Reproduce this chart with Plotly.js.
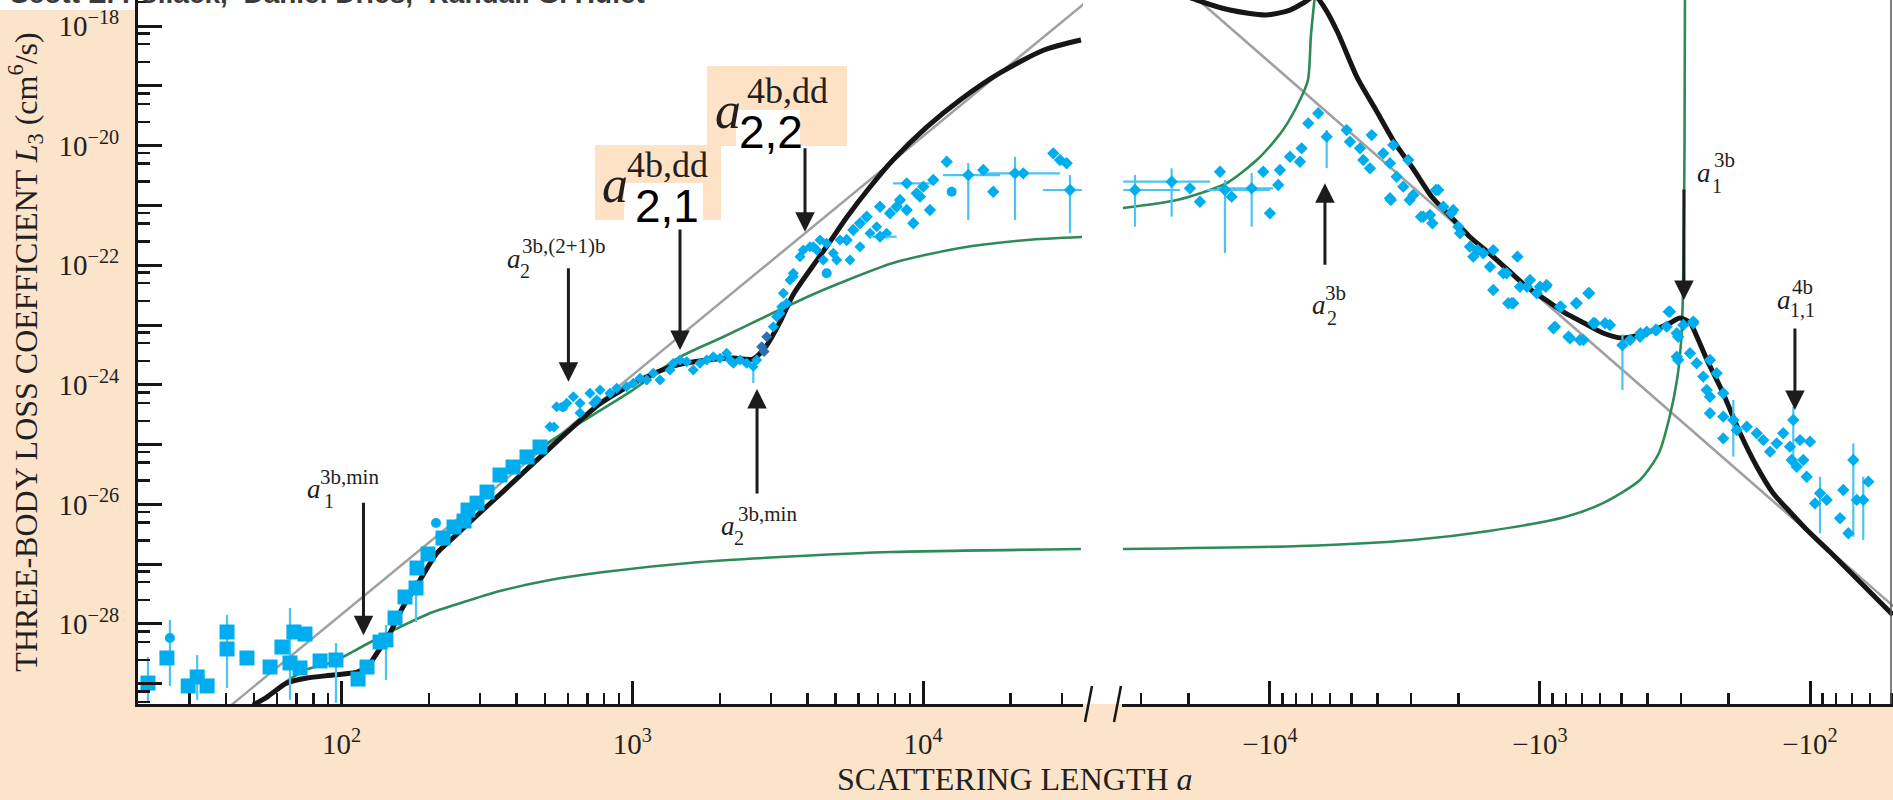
<!DOCTYPE html>
<html><head><meta charset="utf-8">
<script src="https://cdn.plot.ly/plotly-3.0.1.min.js"></script>
<style>html,body{margin:0;padding:0;background:#fce4cb;}#chart{width:1893px;height:800px;}</style>
</head><body><div id="chart"></div>
<script>
// ---------- tick labels ----------
const yTickVals = [1e-28,1e-26,1e-24,1e-22,1e-20,1e-18];
const yTickText = ['10<sup>−28</sup>','10<sup>−26</sup>','10<sup>−24</sup>','10<sup>−22</sup>','10<sup>−20</sup>','10<sup>−18</sup>'];
const yOddTickVals = [1e-29,1e-27,1e-25,1e-23,1e-21,1e-19];
const xPosTickVals = [100,1000,10000];
const xPosTickText = ['10<sup>2</sup>','10<sup>3</sup>','10<sup>4</sup>'];
const xNegTickVals = [10000,1000,100];
const xNegTickText = ['−10<sup>4</sup>','−10<sup>3</sup>','−10<sup>2</sup>'];
const xPosMinor = [20,30,40,50,60,70,80,90,200,300,400,500,600,700,800,900,2000,3000,4000,5000,6000,7000,8000,9000,20000,30000];
const xNegMinor = [30000,20000,9000,8000,7000,6000,5000,4000,3000,2000,900,800,700,600,500,400,300,200,90,80,70,60,50];
const yMinorMant = [2.5,5,7.5];

// ---------- theory curves (a>0 panel) ----------
const grayPosA = [40, 37000];
const grayPosL = [3.7e-30, 2.7e-18];
const greenLowPosA = [60, 75, 93.5, 122.4, 158.9, 206.4, 270.2, 350.8, 521, 799, 1709, 3773, 7755, 34900];
const greenLowPosL = [8.5e-30, 1.7e-29, 2.32e-29, 4.63e-29, 8.91e-29, 1.59e-28, 2.43e-28, 3.56e-28, 5.44e-28, 7.41e-28, 1.09e-27, 1.37e-27, 1.60e-27, 1.79e-27];
const greenUpPosA = [500, 635, 982, 1459, 2051, 3047, 3989, 5180, 7880, 13400, 22750, 35200];
const greenUpPosL = [1.0e-25, 2.05e-25, 7.59e-25, 2.92e-24, 6.30e-24, 1.59e-23, 2.94e-23, 5.04e-23, 1.09e-22, 1.94e-22, 2.64e-22, 2.96e-22];
const blackPosA = [49.6, 55.4, 64.9, 76.1, 93.5, 113.1, 122.4, 132.5, 146.8, 162.7, 186.2, 213, 241.7, 276.6, 316.5, 350.8, 411, 501, 610.6, 774.4, 1063, 1380, 1807, 2220, 2601, 2905, 3220, 3569, 4083, 4672, 5473, 6568, 7880, 10310, 13400, 18380, 26040, 34910];
const blackPosL = [4.4e-30, 6.0e-30, 1.03e-29, 1.25e-29, 1.40e-29, 1.57e-29, 1.91e-29, 3.27e-29, 7.06e-29, 1.92e-28, 5.45e-28, 1.54e-27, 2.75e-27, 5.07e-27, 9.31e-27, 1.47e-26, 3.03e-26, 7.35e-26, 1.78e-25, 4.82e-25, 1.20e-24, 2.06e-24, 2.60e-24, 2.81e-24, 2.70e-24, 4.63e-24, 1.12e-23, 3.18e-23, 8.32e-23, 2.09e-22, 6.40e-22, 2.03e-21, 5.74e-21, 2.05e-20, 5.79e-20, 1.64e-19, 3.97e-19, 5.83e-19];

// ---------- theory curves (a<0 panel, |a|) ----------
const grayNegA = [20000, 45];
const grayNegL = [3.76e-18, 1.41e-28];
const greenLowNegA = [35030, 7743, 2954, 1545, 808, 584.6, 426.3, 362.5, 329.9, 310.9, 300.5, 295.4, 291.6, 290.4];
const greenLowNegL = [1.79e-27, 2.01e-27, 2.54e-27, 3.59e-27, 6.15e-27, 1.05e-26, 2.56e-26, 7.24e-26, 3.13e-25, 1.20e-24, 5.0e-24, 3.43e-23, 8.4e-21, 4e-18];
const greenUpNegA = [35030, 22100, 14430, 10890, 8952, 7743, 7233, 7050, 6813];
const greenUpNegL = [9.06e-22, 1.23e-21, 2.37e-21, 6.45e-21, 1.82e-20, 5.79e-20, 1.25e-19, 7.07e-19, 3.3e-18];
const blackNegA = [35030, 25550, 18640, 14070, 10340, 8431, 7420, 6813, 6202, 5600, 4763, 4050, 3443, 2929, 2512, 2136, 1817, 1545, 1314, 1117, 950, 808, 687, 584.6, 497, 426, 362.5, 330, 303, 278, 262, 240.6, 210, 181.6, 157.1, 137.1, 118.6, 102.6, 84.3, 61.5, 49.3];
const blackNegL = [1.79e-17, 4.85e-18, 2.72e-18, 1.85e-18, 1.53e-18, 1.85e-18, 2.52e-18, 3.18e-18, 1.85e-18, 7.64e-19, 1.40e-19, 3.94e-20, 1.10e-20, 3.91e-21, 1.38e-21, 6.40e-22, 2.96e-22, 1.60e-22, 8.32e-23, 4.32e-23, 2.62e-23, 1.59e-23, 1.08e-23, 7.35e-24, 6.06e-24, 6.81e-24, 8.91e-24, 1.08e-23, 1.31e-23, 1.08e-23, 6.30e-24, 2.60e-24, 7.30e-25, 1.56e-25, 4.22e-26, 1.55e-26, 7.5e-27, 3.73e-27, 1.60e-27, 3.85e-28, 1.42e-28];

// ---------- measured L3 (a>0) ----------
const sqA = [25.1, 29.7, 34.5, 40.4, 47.3, 56.8, 62.4, 68.6, 74.9, 72.0, 84.4, 114, 122.4, 135.7, 152.8, 165.3, 181.8, 198.4, 223.4, 243.8, 263.8, 272.3, 292.4, 316.5, 350.8, 388.8, 434.4, 481.6];
const sqL = [2.70e-29, 9.2e-30, 9.2e-30, 3.82e-29, 2.70e-29, 1.91e-29, 4.12e-29, 7.35e-29, 6.80e-29, 1.84e-29, 2.41e-29, 1.20e-29, 1.91e-29, 5.0e-29, 1.26e-28, 2.83e-28, 8.63e-28, 1.48e-27, 2.74e-27, 4.19e-27, 5.27e-27, 8.05e-27, 1.05e-26, 1.61e-26, 3.10e-26, 4.22e-26, 6.21e-26, 9.12e-26];
const sqErrA = [21.6, 31.9, 40.4, 66.5, 95.7, 142.2, 180.4];
const sqErrL = [1.03e-29, 1.30e-29, 7.35e-29, 2.23e-29, 2.50e-29, 5.40e-29, 4.0e-28];
const sqErrHi = [2.8e-29, 3.03e-29, 1.42e-28, 1.85e-28, 4.81e-29, 9.6e-29, 5.44e-28];
const sqErrLo = [5.0e-30, 5.4e-30, 8.5e-30, 5.4e-30, 4.8e-30, 1.16e-29, 1.08e-28];
const circA = [25.7, 211.3, 577.9, 4661, 12540];
const circL = [5.83e-29, 4.89e-27, 4.26e-25, 7.33e-23, 1.69e-21];
const circHi = [1.17e-28, 4.89e-27, 4.26e-25, 7.33e-23, 1.69e-21];
const circLo = [9.2e-30, 4.89e-27, 4.26e-25, 7.33e-23, 1.69e-21];
const ridgeA = [538, 521, 549.5, 595, 627, 661, 715, 738, 754.5, 774.4, 838, 884, 956, 1008, 1063, 1121, 1181, 1245, 1348, 1384, 1459, 1538, 1621, 1709, 1802, 1899, 2002, 2111, 2168, 2225, 2346, 2474, 2678, 3054, 3137, 3265, 3306, 3485, 3577, 3773, 3873, 4084, 4306, 4420, 4661, 4911, 5178, 3396, 3577, 4192, 4537, 5045, 3220, 5606, 6067, 6568, 6926, 7497, 661];
const ridgeL = [1.97e-25, 1.99e-25, 4.31e-25, 4.91e-25, 6.32e-25, 4.91e-25, 7.21e-25, 4.97e-25, 5.57e-25, 8.18e-25, 7.21e-25, 8.74e-25, 9.29e-25, 1.06e-24, 1.29e-24, 1.20e-24, 1.56e-24, 1.20e-24, 1.77e-24, 2.29e-24, 2.60e-24, 2.43e-24, 1.77e-24, 2.29e-24, 2.60e-24, 2.95e-24, 2.77e-24, 3.37e-24, 2.60e-24, 2.29e-24, 2.60e-24, 2.29e-24, 2.60e-24, 9.37e-24, 1.38e-23, 2.02e-23, 3.39e-23, 5.66e-23, 7.33e-23, 1.39e-22, 1.79e-22, 2.04e-22, 1.79e-22, 2.64e-22, 2.32e-22, 1.58e-22, 2.64e-22, 2.31e-23, 6.43e-23, 2.04e-22, 1.22e-22, 1.22e-22, 1.57e-23, 1.22e-22, 2.04e-22, 3.41e-22, 4.41e-22, 3.41e-22, 3.37e-25];
const ridgeErrA = [2607];
const ridgeErrL = [2.01e-24];
const ridgeErrHi = [2.01e-24];
const ridgeErrLo = [1.07e-24];
const darkA = [2786, 2899, 2840];
const darkL = [4.34e-24, 6.37e-24, 3.6e-24];
const upA = [5462, 5754, 6067, 6397, 7110, 7695, 8326, 9506, 9253, 10020, 10560, 10840, 12060, 16110, 17430, 22110, 28030, 29570, 31170, 8113, 8783, 9757];
const upL = [2.64e-22, 3.88e-22, 5.02e-22, 6.47e-22, 9.51e-22, 7.38e-22, 1.23e-21, 1.59e-21, 5.02e-22, 2.06e-21, 8.38e-22, 2.66e-21, 5.38e-21, 3.91e-21, 1.69e-21, 3.44e-21, 7.43e-21, 5.74e-21, 5.06e-21, 9.51e-22, 8.38e-22, 1.40e-21];
const upErrA = [7110, 8783, 14300, 20700, 32000];
const upErrL = [3.0e-22, 2.34e-21, 3.22e-21, 3.44e-21, 1.81e-21];
const upErrHi = [3.0e-22, 2.34e-21, 5.12e-21, 6.52e-21, 3.22e-21];
const upErrLo = [3.0e-22, 2.34e-21, 5.70e-22, 5.70e-22, 3.45e-22];
const upErrAHi = [8113, 10820, 18380, 29570, 35190];
const upErrALo = [6568, 7880, 11710, 15690, 25840];

// ---------- measured L3 (a<0, |a|) ----------
const negErrA = [31620, 23130, 14680, 11690, 6166];
const negErrL = [1.81e-21, 2.49e-21, 1.81e-21, 1.93e-21, 1.41e-20];
const negErrHi = [3.22e-21, 4.17e-21, 2.66e-21, 3.48e-21, 1.82e-20];
const negErrLo = [4.41e-22, 6.47e-22, 1.60e-22, 4.41e-22, 4.22e-21];
const negErrAHi = [34940, 34940, 17150, 15750, 6166];
const negErrALo = [21540, 16680, 10000, 9747, 6166];
const negA = [19780, 18170, 15320, 13870, 10000, 10590, 9183, 9318, 8431, 7632, 7743, 7213, 6624, 5199, 5055, 4642, 4201, 4511, 4263, 3805, 3594, 3494, 3395, 3594, 3209, 3074, 2947, 2705, 2555, 2381, 2281, 2095, 2007, 1978, 1817, 1766, 1622, 1489, 1532, 1489, 1329, 1311, 3569, 3038, 2758, 2503, 2428, 2130, 1700, 1272, 1212, 1118, 951.7, 892, 836, 735.7, 656.9, 711.6, 784.3, 625.8, 550.6, 424.7, 373.4, 333.7, 307.7, 270.5, 307.7, 1367, 1256, 1186, 1089, 1000, 944.6, 1028, 880, 843, 774, 731, 691, 662, 635, 574, 464, 426, 402.6, 369.7, 339.5, 330, 311.6, 294.6, 270.5, 311.6, 278.2, 262.8, 248.5, 234.7, 221.6, 241.3, 234.7, 209.5, 234.7, 209.5, 209.5, 186.8, 171.5, 157.5, 148.9, 140.6, 132.8, 125.6, 118.6, 108.9, 100, 116.9, 105.9, 112, 102.9, 95.8, 86.7, 77.4, 72.1, 75.3, 67.1, 60.8];
const negL = [1.93e-21, 1.15e-21, 3.66e-21, 1.40e-21, 7.38e-22, 3.66e-21, 3.91e-21, 2.19e-21, 6.52e-21, 9.01e-21, 5.38e-21, 2.36e-20, 3.47e-20, 1.82e-20, 1.16e-20, 9.01e-21, 1.50e-20, 5.74e-21, 4.17e-21, 7.43e-21, 5.06e-21, 1.02e-20, 3.02e-21, 1.32e-21, 2.06e-21, 5.74e-21, 1.49e-21, 6.47e-22, 6.91e-22, 1.81e-21, 9.51e-22, 8.38e-22, 4.41e-22, 3.41e-22, 2.04e-22, 1.39e-22, 1.58e-22, 1.79e-22, 9.44e-23, 3.85e-23, 7.33e-23, 2.31e-23, 1.23e-21, 1.23e-21, 6.47e-22, 5.02e-22, 1.81e-21, 7.38e-22, 1.79e-22, 2.31e-23, 1.39e-22, 4.37e-23, 4.37e-23, 8.81e-24, 2.02e-23, 2.31e-23, 3.39e-23, 5.61e-24, 6.37e-24, 1.07e-23, 1.0e-23, 7.27e-24, 8.24e-24, 1.67e-23, 6.37e-24, 1.07e-23, 2.60e-24, 7.33e-23, 2.31e-23, 4.37e-23, 5.66e-23, 4.37e-23, 4.67e-23, 3.39e-23, 9.37e-24, 2.02e-23, 6.0e-24, 2.31e-23, 5.61e-24, 3.39e-23, 1.07e-23, 1.07e-23, 5.61e-24, 6.37e-24, 7.73e-24, 8.24e-24, 9.37e-24, 1.67e-23, 7.27e-24, 1.0e-23, 1.14e-23, 2.95e-24, 3.37e-24, 2.29e-24, 1.37e-24, 2.60e-24, 1.56e-24, 8.18e-25, 6.32e-25, 7.21e-25, 3.34e-25, 2.93e-25, 1.27e-25, 1.75e-25, 1.99e-25, 1.55e-25, 1.19e-25, 7.61e-26, 1.05e-25, 1.55e-25, 9.23e-26, 1.19e-25, 1.12e-25, 5.52e-26, 5.52e-26, 4.27e-26, 2.90e-26, 1.04e-26, 1.19e-26, 5.86e-27, 3.29e-27, 1.74e-26, 1.19e-26, 2.40e-26];
const negVErrA = [495, 192.3, 115.3, 91.8, 69.1, 63.5];
const negVErrL = [4.6e-24, 2.58e-25, 2.58e-25, 1.53e-26, 5.52e-26, 1.19e-26];
const negVErrHi = [7.0e-24, 5.57e-25, 4.31e-25, 2.90e-26, 1.05e-25, 2.90e-26];
const negVErrLo = [8.2e-25, 6.28e-26, 5.52e-26, 3.29e-27, 2.88e-27, 2.54e-27];

// ---------- feature arrows (resonance positions; tip value and arrow length in px, + = tail below) ----------
const arrowPosA = [119, 603, 1459, 3926, 2685];
const arrowPosL = [6.5e-29, 1.13e-24, 3.82e-24, 3.63e-22, 8.5e-25];
const arrowPosLen = [-134, -115, -122, -85, 106];
const arrowNegA = [6257, 293, 113.7];
const arrowNegL = [2.34e-21, 2.62e-23, 3.79e-25];
const arrowNegLen = [83, -112, -83];

// ---------- styling ----------
const BLUE = '#00aeef', EBLUE = '#4cc3f1', DARK = '#2b70b0', GREEN = '#2e8a57', BLACK = '#161616', GRAY = '#a0a0a0', INK = '#231f20';
const SERIF = '"Liberation Serif", "Times New Roman", serif';
const SANS = '"Liberation Sans", Arial, sans-serif';
const PEACH = '#fce4cb';

function pts(a, L, sym, size, color, xa, hi, lo, ahi, alo) {
  const t = {x: a, y: L, type: 'scatter', mode: 'markers', xaxis: xa, yaxis: 'y', hoverinfo: 'skip', showlegend: false,
    marker: {symbol: sym, size: size, color: color, line: {width: 0}}};
  if (hi) t.error_y = {type: 'data', symmetric: false, array: hi.map((h, i) => h - L[i]), arrayminus: L.map((v, i) => v - lo[i]), color: EBLUE, thickness: 2.2, width: 0};
  if (ahi) t.error_x = {type: 'data', symmetric: false, array: ahi.map((h, i) => h - a[i]), arrayminus: a.map((v, i) => v - alo[i]), color: EBLUE, thickness: 2.2, width: 0};
  return t;
}
function curve(a, L, color, w, xa, smooth) {
  return {x: a, y: L, type: 'scatter', mode: 'lines', xaxis: xa, yaxis: 'y', hoverinfo: 'skip', showlegend: false,
    line: {color: color, width: w, shape: smooth ? 'spline' : 'linear', smoothing: 0.7}};
}

const data = [
  {x: [], y: [], type: 'scatter', mode: 'markers', xaxis: 'x', yaxis: 'y2', hoverinfo: 'skip', showlegend: false},
  curve(grayPosA, grayPosL, GRAY, 2.5, 'x', false),
  curve(grayNegA, grayNegL, GRAY, 2.5, 'x2', false),
  curve(greenLowPosA, greenLowPosL, GREEN, 2.6, 'x', true),
  curve(greenUpPosA, greenUpPosL, GREEN, 2.6, 'x', true),
  curve(greenLowNegA, greenLowNegL, GREEN, 2.6, 'x2', true),
  curve(greenUpNegA, greenUpNegL, GREEN, 2.6, 'x2', true),
  curve(blackPosA, blackPosL, BLACK, 5, 'x', true),
  curve(blackNegA, blackNegL, BLACK, 5, 'x2', true),
  pts(sqErrA, sqErrL, 'square', 15, BLUE, 'x', sqErrHi, sqErrLo),
  pts(circA, circL, 'circle', 10, BLUE, 'x', circHi, circLo),
  pts(sqA, sqL, 'square', 15, BLUE, 'x'),
  pts(ridgeErrA, ridgeErrL, 'diamond', 8, BLUE, 'x', ridgeErrHi, ridgeErrLo),
  pts(ridgeA, ridgeL, 'diamond', 8.5, BLUE, 'x'),
  pts(darkA, darkL, 'diamond', 8.5, DARK, 'x'),
  pts(upErrA, upErrL, 'diamond', 9.5, BLUE, 'x', upErrHi, upErrLo, upErrAHi, upErrALo),
  pts(upA, upL, 'diamond', 9.5, BLUE, 'x'),
  pts(negErrA, negErrL, 'diamond', 9.5, BLUE, 'x2', negErrHi, negErrLo, negErrAHi, negErrALo),
  pts(negVErrA, negVErrL, 'diamond', 9.5, BLUE, 'x2', negVErrHi, negVErrLo),
  pts(negA, negL, 'diamond', 9.5, BLUE, 'x2')
];

// ---------- layout ----------
const yMinor = [];
for (let k = -30; k <= -18; k++) yMinorMant.forEach(m => yMinor.push(m * Math.pow(10, k)));

const ML = 138, PW = 1893 - ML, PH = 704;
const PX = X => (X - ML) / PW, PY = Y => (PH - Y) / PH;
const YRANGE = [-29.338, -17.565];

const tickFont = {family: SERIF, size: 29, color: INK};
function xAxis(domain, range, vals, text, minor) {
  return {type: 'log', domain: domain, range: range, anchor: 'y', tickmode: 'array', tickvals: vals, ticktext: text,
    ticks: 'inside', ticklen: 23, tickwidth: 3, tickcolor: BLACK, showline: true, linewidth: 3, linecolor: BLACK,
    showgrid: false, zeroline: false, tickfont: tickFont, ticklabelstandoff: 12,
    minor: {tickmode: 'array', tickvals: minor, ticks: 'inside', ticklen: 11, tickwidth: 2.5, tickcolor: BLACK, showgrid: false}};
}

function txt(s, X, Y, size, extra) {
  return Object.assign({xref: 'paper', yref: 'paper', x: PX(X), y: PY(Y), xanchor: 'left', yanchor: 'middle',
    text: s, showarrow: false, font: {family: SERIF, size: size, color: INK}}, extra || {});
}
const annotations = [];
// small stacked labels: [sub, sup, aX, aY, supX, supY, subX, subY]
const smallLabels = [
  ['1', '3b,min', 305, 489, 318, 477, 322, 501],
  ['2', '3b,(2+1)b', 505, 259, 520, 246, 518, 271],
  ['2', '3b,min', 719, 526, 736, 514, 732, 538],
  ['2', '3b', 1310, 305, 1323, 293, 1325, 318],
  ['1', '3b', 1695, 173, 1712, 160, 1710, 186],
  ['1,1', '4b', 1775, 300, 1790, 287, 1788, 310]
];
smallLabels.forEach(l => {
  annotations.push(txt('<i>a</i>', l[2], l[3], 27));
  annotations.push(txt(l[1], l[4], l[5], 21));
  annotations.push(txt(l[0], l[6], l[7], 20));
});
// boxed 4-body labels
annotations.push(txt('<i>a</i>', 600, 184, 52));
annotations.push(txt('4b,dd', 625, 165, 36));
annotations.push(txt('2,1', 667, 206, 46, {xanchor: 'center', font: {family: SANS, size: 46, color: '#000'}}));
annotations.push(txt('<i>a</i>', 713, 110, 52));
annotations.push(txt('4b,dd', 745, 91, 36));
annotations.push(txt('2,2', 771, 132, 46, {xanchor: 'center', font: {family: SANS, size: 46, color: '#000'}}));

// arrows pointing at the features
function addArrows(xref, aArr, LArr, lenArr) {
  aArr.forEach((a, i) => annotations.push({xref: xref, yref: 'y', x: Math.log10(a), y: Math.log10(LArr[i]),
    ax: 0, ay: lenArr[i], text: '', showarrow: true, arrowhead: 2, arrowsize: 1.3, arrowwidth: 3,
    arrowcolor: '#1c1c1c', standoff: 0, startstandoff: 0}));
}
addArrows('x', arrowPosA, arrowPosL, arrowPosLen);
addArrows('x2', arrowNegA, arrowNegL, arrowNegLen);

// x-axis title (spans the broken axis)
annotations.push(txt('SCATTERING LENGTH <i>a</i>', 1015, 779, 32, {xanchor: 'center'}));
// header (cut off at top, as in the source scan)
annotations.push(txt('<b>Scott E. Pollack,  Daniel Dries,  Randall G. Hulet</b>', 8, 11, 28,
  {yanchor: 'bottom', font: {family: SANS, size: 28, color: '#3a3a3a'}}));

const shapes = [
  {type: 'rect', xref: 'paper', yref: 'paper', x0: PX(0), x1: PX(136), y0: PY(10), y1: PY(0), fillcolor: '#ffffff', line: {width: 0}, layer: 'below'},
  {type: 'rect', xref: 'paper', yref: 'paper', x0: PX(1082), x1: PX(1123), y0: 0, y1: 1, fillcolor: '#ffffff', line: {width: 0}, layer: 'below'},
  {type: 'rect', xref: 'paper', yref: 'paper', x0: PX(595), x1: PX(721), y0: PY(220), y1: PY(145), fillcolor: '#fde2c6', line: {width: 0}, layer: 'above'},
  {type: 'rect', xref: 'paper', yref: 'paper', x0: PX(624), x1: PX(703), y0: PY(228), y1: PY(183), fillcolor: '#ffffff', line: {width: 0}, layer: 'above'},
  {type: 'rect', xref: 'paper', yref: 'paper', x0: PX(707), x1: PX(847), y0: PY(146), y1: PY(66), fillcolor: '#fde2c6', line: {width: 0}, layer: 'above'},
  {type: 'rect', xref: 'paper', yref: 'paper', x0: PX(736), x1: PX(800), y0: PY(149), y1: PY(110), fillcolor: '#ffffff', line: {width: 0}, layer: 'above'},
  {type: 'line', xref: 'paper', yref: 'paper', x0: PX(1092), x1: PX(1085), y0: PY(686), y1: PY(722), line: {color: BLACK, width: 2.5}},
  {type: 'line', xref: 'paper', yref: 'paper', x0: PX(1121), x1: PX(1114), y0: PY(686), y1: PY(722), line: {color: BLACK, width: 2.5}},
  {type: 'line', xref: 'paper', yref: 'paper', x0: PX(1891), x1: PX(1891), y0: PY(0), y1: PY(704), line: {color: '#555', width: 1.5}}
];

const layout = {
  width: 1893, height: 800,
  margin: {l: ML, r: 0, t: 0, b: 800 - PH, pad: 0},
  paper_bgcolor: PEACH, plot_bgcolor: '#ffffff',
  showlegend: false,
  xaxis: xAxis([0, PX(1083)], [1.3002, 4.5499], xPosTickVals, xPosTickText, xPosMinor),
  xaxis2: xAxis([PX(1122), 1], [4.548, 1.6926], xNegTickVals, xNegTickText, xNegMinor),
  yaxis: {type: 'log', range: YRANGE, tickmode: 'array', tickvals: yTickVals, ticktext: yTickText,
    ticks: 'inside', ticklen: 24, tickwidth: 3, tickcolor: BLACK, showline: true, linewidth: 3, linecolor: BLACK,
    showgrid: false, zeroline: false, tickfont: tickFont, ticklabelstandoff: 10,
    minor: {tickmode: 'array', tickvals: yMinor, ticks: 'inside', ticklen: 12, tickwidth: 2.5, tickcolor: BLACK, showgrid: false},
    title: {text: 'THREE-BODY LOSS COEFFICIENT <i>L</i><sub>3</sub> (cm<sup>6</sup>/s)', font: {family: SERIF, size: 32, color: INK}, standoff: 12}},
  yaxis2: {type: 'log', range: YRANGE, overlaying: 'y', side: 'left', anchor: 'x', tickmode: 'array', tickvals: yOddTickVals,
    ticks: 'inside', ticklen: 24, tickwidth: 3, tickcolor: BLACK, showticklabels: false, showline: false,
    showgrid: false, zeroline: false},
  annotations: annotations,
  shapes: shapes
};

Plotly.newPlot('chart', data, layout, {displayModeBar: false, staticPlot: true});
</script></body></html>
